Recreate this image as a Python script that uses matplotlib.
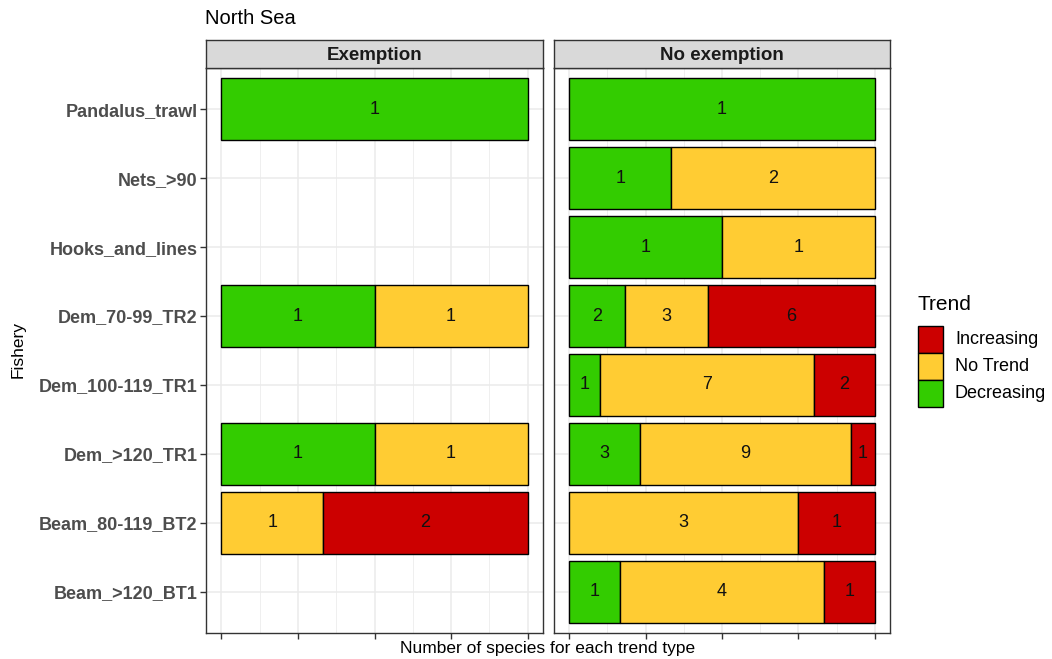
import matplotlib
matplotlib.use("Agg")
import matplotlib.pyplot as plt
from matplotlib.patches import Rectangle
import numpy as np

plt.rcParams['font.family'] = ['Liberation Sans', 'DejaVu Sans']

# Fisheries, listed top to bottom
fisheries = ["Pandalus_trawl", "Nets_>90", "Hooks_and_lines", "Dem_70-99_TR2",
             "Dem_100-119_TR1", "Dem_>120_TR1", "Beam_80-119_BT2", "Beam_>120_BT1"]

trends = ["Decreasing", "No Trend", "Increasing"]
trend_colors = {"Decreasing": "#33CC00", "No Trend": "#FFCC33", "Increasing": "#CC0000"}
legend_order = ["Increasing", "No Trend", "Decreasing"]

# Species counts per trend type (0 = no species / fishery absent)
exempt_decreasing = [1, 0, 0, 1, 0, 1, 0, 0]
exempt_notrend    = [0, 0, 0, 1, 0, 1, 1, 0]
exempt_increasing = [0, 0, 0, 0, 0, 0, 2, 0]

noexempt_decreasing = [1, 1, 1, 2, 1, 3, 0, 1]
noexempt_notrend    = [0, 2, 1, 3, 7, 9, 3, 4]
noexempt_increasing = [0, 0, 0, 6, 2, 1, 1, 1]

facets = [
    ("Exemption", [exempt_decreasing, exempt_notrend, exempt_increasing]),
    ("No exemption", [noexempt_decreasing, noexempt_notrend, noexempt_increasing]),
]

W, H = 1052, 659
fig = plt.figure(figsize=(W / 100, H / 100), dpi=100)
fig.patch.set_facecolor("white")

panel_top, panel_bottom = 68, 633
strip_top = 40
panel_x = [(206, 543), (554, 890)]

n = len(fisheries)
ypos = np.arange(n)[::-1] + 1  # top category gets the highest value

grid_col = "#EBEBEB"
for k, (name, series) in enumerate(facets):
    x0, x1 = panel_x[k]
    ax = fig.add_axes([x0 / W, 1 - panel_bottom / H, (x1 - x0) / W, (panel_bottom - panel_top) / H])
    ax.set_xlim(-0.05, 1.05)
    ax.set_ylim(0.4, n + 0.6)
    # grid lines
    for gx in [0, 0.25, 0.5, 0.75, 1.0]:
        ax.axvline(gx, color=grid_col, lw=1.1, zorder=0)
    for gx in [0.125, 0.375, 0.625, 0.875]:
        ax.axvline(gx, color=grid_col, lw=0.55, zorder=0)
    for gy in ypos:
        ax.axhline(gy, color=grid_col, lw=1.1, zorder=0)

    counts = np.array(series, dtype=float)  # shape (3, n)
    totals = counts.sum(axis=0)
    left = np.zeros(n)
    for t_i, trend in enumerate(trends):
        vals = counts[t_i]
        frac = np.divide(vals, totals, out=np.zeros(n), where=totals > 0)
        for j in range(n):
            if vals[j] > 0:
                ax.barh(ypos[j], frac[j], left=left[j], height=0.9,
                        color=trend_colors[trend], edgecolor="black", linewidth=1.0, zorder=2)
                ax.text(left[j] + frac[j] / 2, ypos[j], f"{int(vals[j])}",
                        ha="center", va="center", fontsize=13, color="#111111", zorder=3)
        left += frac

    ax.set_xticks([0, 0.25, 0.5, 0.75, 1.0])
    ax.set_xticklabels([])
    ax.tick_params(axis="x", length=4, width=1, color="#333333")
    ax.set_yticks(ypos)
    if k == 0:
        ax.set_yticklabels(fisheries, fontsize=13, fontweight="bold", color="#4D4D4D")
        ax.tick_params(axis="y", length=4, width=1, color="#333333", pad=2)
    else:
        ax.set_yticklabels([])
        ax.tick_params(axis="y", length=0)
    for sp in ax.spines.values():
        sp.set_color("#333333")
        sp.set_linewidth(1.0)

    # facet strip
    sax = fig.add_axes([x0 / W, 1 - panel_top / H, (x1 - x0) / W, (panel_top - strip_top) / H])
    sax.set_facecolor("#D9D9D9")
    sax.set_xticks([])
    sax.set_yticks([])
    for sp in sax.spines.values():
        sp.set_color("#333333")
        sp.set_linewidth(1.0)
    sax.text(0.5, 0.45, name, ha="center", va="center", fontsize=13.5,
             fontweight="bold", color="#1A1A1A", transform=sax.transAxes)

fig.text(205 / W, 1 - 19 / H, "North Sea", fontsize=14.5, ha="left", va="center", color="black")
fig.text(548 / W, 1 - 648 / H, "Number of species for each trend type", fontsize=12.5,
         ha="center", va="center", color="black")
fig.text(18 / W, 1 - 349 / H, "Fishery", fontsize=12.5, rotation=90, ha="center", va="center")

# legend: title, stacked colour keys and labels
fig.text(918 / W, 1 - 305 / H, "Trend", fontsize=15, ha="left", va="center", color="black")
key_x, key_w, key_h, key_top = 918, 25, 26.5, 326
for i, trend in enumerate(legend_order):
    ky = key_top + i * (key_h + 0.5)
    fig.patches.append(Rectangle((key_x / W, 1 - (ky + key_h) / H), key_w / W, key_h / H,
                                 transform=fig.transFigure, facecolor=trend_colors[trend],
                                 edgecolor="black", linewidth=1.0))
    fig.text(955 / W, 1 - (ky + key_h / 2) / H, trend, fontsize=13, ha="left", va="center",
             color="black")

fig.savefig("out.png", dpi=100, facecolor="white")
